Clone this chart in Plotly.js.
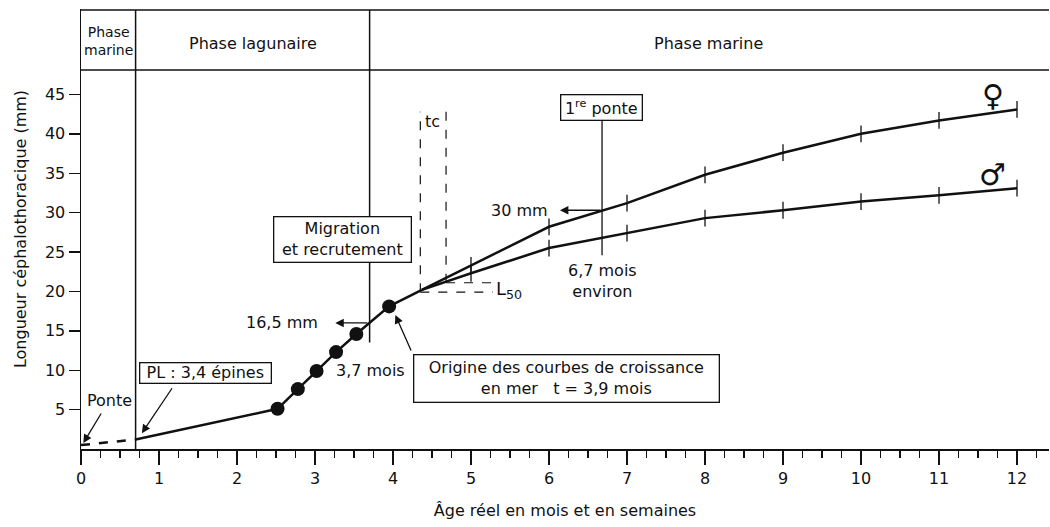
<!DOCTYPE html>
<html>
<head>
<meta charset="utf-8">
<script src="https://cdn.plot.ly/plotly-3.0.1.min.js"></script>
<style>html,body{margin:0;padding:0;background:#fff;}#chart{width:1050px;height:527px;}</style>
</head>
<body>
<div id="chart"></div>
<script>
// ---- Data ----
const xTickVals = [0,1,2,3,4,5,6,7,8,9,10,11,12];
const yTickVals = [5,10,15,20,25,30,35,40,45];

// Egg to post-larva (dashed)
const eggX = [0, 0.7];
const eggY = [0.5, 1.2];

// Lagoon phase growth (solid) ending at the origin of sea growth curves
const lagoonX = [0.7, 2.52, 2.78, 3.02, 3.27, 3.53, 3.95, 4.37];
const lagoonY = [1.2, 5.1, 7.6, 9.9, 12.3, 14.6, 18.1, 20.2];

// Sampled points (filled dots)
const dotX = [2.52, 2.78, 3.02, 3.27, 3.53, 3.95];
const dotY = [5.1, 7.6, 9.9, 12.3, 14.6, 18.1];

// Sea growth curves
const seaX = [4.37, 5, 6, 7, 8, 9, 10, 11, 12];
const femaleY = [20.2, 23.3, 28.2, 31.2, 34.8, 37.6, 40.0, 41.7, 43.1];
const maleY   = [20.2, 22.3, 25.5, 27.4, 29.3, 30.3, 31.4, 32.2, 33.1];

// ---- Styling ----
const FONT = 'DejaVu Sans, Liberation Sans, sans-serif';
const K = '#111';

const traces = [
  {x: eggX, y: eggY, mode: 'lines', line: {color: K, width: 2.5, dash: 'dash'}, hoverinfo: 'skip'},
  {x: lagoonX, y: lagoonY, mode: 'lines', line: {color: K, width: 2.5}, hoverinfo: 'skip'},
  {x: dotX, y: dotY, mode: 'markers', marker: {color: K, size: 14}, hoverinfo: 'skip'},
  {x: seaX, y: femaleY, mode: 'lines', line: {color: K, width: 2.5}, hoverinfo: 'skip'},
  {x: seaX, y: maleY, mode: 'lines', line: {color: K, width: 2.5}, hoverinfo: 'skip'},
  {x: seaX.slice(1), y: femaleY.slice(1), mode: 'markers',
   marker: {symbol: 'line-ns', size: 12, line: {color: K, width: 1.3}}, hoverinfo: 'skip'},
  {x: seaX.slice(1), y: maleY.slice(1), mode: 'markers',
   marker: {symbol: 'line-ns', size: 12, line: {color: K, width: 1.3}}, hoverinfo: 'skip'}
];

const Y_HEAD = 48.1;   // bottom of header band
const Y_TOP = 55.71;   // top frame line

function seg(x0, y0, x1, y1, w, dash) {
  return {type: 'line', xref: 'x', yref: 'y', x0: x0, y0: y0, x1: x1, y1: y1,
          line: {color: K, width: w || 1.5, dash: dash || 'solid'}};
}

const shapes = [
  // header frame
  {type: 'line', xref: 'paper', yref: 'y', x0: 0, x1: 1, y0: Y_TOP, y1: Y_TOP, line: {color: K, width: 1.5}},
  {type: 'line', xref: 'paper', yref: 'y', x0: 0, x1: 1, y0: Y_HEAD, y1: Y_HEAD, line: {color: K, width: 1.5}},
  seg(0.7, 0, 0.7, Y_TOP, 1.5),
  seg(3.7, 13.5, 3.7, Y_TOP, 1.5),
  // first spawning marker line
  seg(6.68, 24.6, 6.68, 42.0, 1.3),
  // tc dashed lines
  seg(4.35, 19.9, 4.35, 42.8, 1.2, 'dash'),
  seg(4.68, 21.1, 4.68, 42.8, 1.2, 'dash'),
  seg(4.35, 19.9, 5.28, 19.9, 1.2, 'dash'),
  seg(4.68, 21.1, 5.28, 21.1, 1.2, 'dash')
];

function arrow(xTip, yTip, xTail, yTail) {
  return {x: xTip, y: yTip, ax: xTail, ay: yTail, xref: 'x', yref: 'y', axref: 'x', ayref: 'y',
          text: '', showarrow: true, arrowhead: 2, arrowsize: 1.3, arrowwidth: 1.3, arrowcolor: K,
          standoff: 0, startstandoff: 0};
}
function txt(x, y, t, size, extra) {
  return Object.assign({x: x, y: y, xref: 'x', yref: 'y', text: t, showarrow: false,
          font: {family: FONT, size: size || 16, color: K}}, extra || {});
}
function box(x, y, t, size, w, h) {
  return {x: x, y: y, xref: 'x', yref: 'y', text: t, showarrow: false,
          font: {family: FONT, size: size || 16, color: K},
          bgcolor: '#fff', bordercolor: K, borderwidth: 1.3, borderpad: 0,
          width: w, height: h, align: 'center', valign: 'middle'};
}

const annotations = [
  // header labels
  txt(0.35, 51.8, 'Phase<br>marine', 14, {align: 'center'}),
  txt(2.2, 51.5, 'Phase lagunaire', 16),
  txt(8.04, 51.5, 'Phase marine', 16),
  // arrows
  arrow(0.03, 0.76, 0.27, 4.7),
  arrow(0.78, 2.0, 1.18, 7.9),
  arrow(4.03, 17.0, 4.24, 12.3),
  arrow(6.14, 30.3, 6.68, 30.3),
  arrow(3.26, 16.0, 3.69, 16.0),
  // labels
  txt(0.37, 6.2, 'Ponte', 16),
  box(1.60, 9.6, 'PL : 3,4 épines', 16, 130, 19),
  box(3.35, 26.6, 'Migration<br>et recrutement', 16, 136, 44),
  box(6.22, 9.0, 'Origine des courbes de croissance<br>en mer   t = 3,9 mois', 16, 304, 46),
  box(6.67, 43.3, '1<sup>re</sup> ponte', 16, 80, 24),
  txt(3.06, 16.0, '16,5 mm', 16, {xanchor: 'right'}),
  txt(6.01, 30.3, '30 mm', 16, {xanchor: 'right'}),
  txt(3.71, 10.0, '3,7 mois', 16),
  txt(6.68, 21.3, '6,7 mois<br>environ', 16, {align: 'center'}),
  txt(4.51, 41.5, 'tc', 16),
  txt(5.49, 20.2, 'L<sub>50</sub>', 18),
  txt(11.69, 44.9, '♀', 30, {font: {family: 'DejaVu Sans, sans-serif', size: 30, color: K}}),
  txt(11.69, 34.9, '♂', 30, {font: {family: 'DejaVu Sans, sans-serif', size: 30, color: K}})
];

const layout = {
  width: 1050, height: 527,
  margin: {l: 81, r: 1, t: 9, b: 78, pad: 0},
  paper_bgcolor: '#fff', plot_bgcolor: '#fff',
  showlegend: false,
  font: {family: FONT, size: 16, color: K},
  xaxis: {
    range: [0, 12.41], tickmode: 'array', tickvals: xTickVals, ticktext: xTickVals.map(String),
    ticks: 'outside', ticklen: 14, tickwidth: 1.4, tickcolor: K,
    minor: {tickmode: 'linear', tick0: 0, dtick: 0.25, ticks: 'outside', ticklen: 7, tickwidth: 1.2, tickcolor: K, showgrid: false},
    showline: true, linecolor: K, linewidth: 1.5, showgrid: false, zeroline: false,
    tickfont: {family: FONT, size: 16, color: K},
    title: {text: 'Âge réel en mois et en semaines', font: {family: FONT, size: 16, color: K}, standoff: 18}
  },
  yaxis: {
    range: [0, 55.84], tickmode: 'array', tickvals: yTickVals, ticktext: yTickVals.map(String),
    ticks: 'outside', ticklen: 11, tickwidth: 1.4, tickcolor: K,
    showline: true, linecolor: K, linewidth: 1.5, showgrid: false, zeroline: false,
    tickfont: {family: FONT, size: 16, color: K},
    title: {text: 'Longueur céphalothoracique (mm)', font: {family: FONT, size: 16, color: K}, standoff: 14}
  },
  shapes: shapes,
  annotations: annotations
};

Plotly.newPlot('chart', traces, layout, {displayModeBar: false, staticPlot: true});
</script>
</body>
</html>
